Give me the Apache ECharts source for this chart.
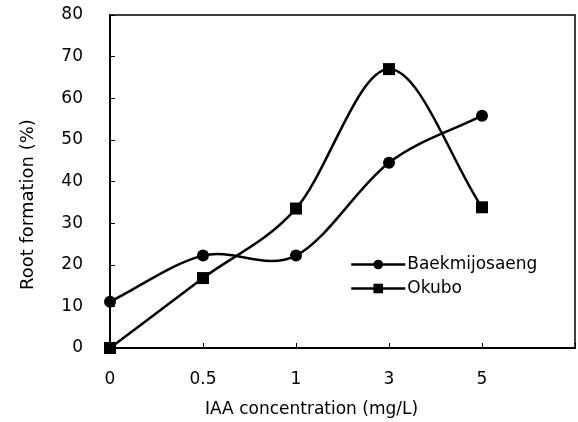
<!DOCTYPE html>
<html>
<head>
<meta charset="utf-8">
<script src="https://cdn.jsdelivr.net/npm/echarts@6/dist/echarts.min.js"></script>
<style>
  html, body { margin: 0; padding: 0; background: #fff; }
  #chart { width: 578px; height: 422px; }
</style>
</head>
<body>
<div id="chart"></div>
<script>
// IAA concentration (mg/L); last slot is empty space on the right
var concentrations = ['0', '0.5', '1', '3', '5', '']
var baekmijosaeng = [11.1, 22.2, 22.2, 44.5, 55.8]
var okubo = [0, 16.8, 33.5, 67.0, 33.8]
var yTicks = { min: 0, max: 80, step: 10 }

var font = 'DejaVu Sans'

// spreadsheet-style smoothed curve (catmull-rom), points mapped by the axes
function smoothCurve (values) {
  return function (params, api) {
    var pts = values.map(function (v, i) { return api.coord([i, v]) })
    var n = pts.length
    var children = []
    for (var i = 0; i < n - 1; i++) {
      var p1 = pts[i]
      var p2 = pts[i + 1]
      // reflect neighbours at the ends so end segments stay fairly straight
      var p0 = i > 0 ? pts[i - 1] : [2 * p1[0] - p2[0], 2 * p1[1] - p2[1]]
      var p3 = i + 2 < n ? pts[i + 2] : [2 * p2[0] - p1[0], 2 * p2[1] - p1[1]]
      children.push({
        type: 'bezierCurve',
        shape: {
          x1: p1[0], y1: p1[1],
          x2: p2[0], y2: p2[1],
          cpx1: p1[0] + (p2[0] - p0[0]) / 6,
          cpy1: p1[1] + (p2[1] - p0[1]) / 6,
          cpx2: p2[0] - (p3[0] - p1[0]) / 6,
          cpy2: p2[1] - (p3[1] - p1[1]) / 6
        },
        style: { stroke: '#000', lineWidth: 2.5, fill: null }
      })
    }
    return { type: 'group', children: children }
  }
}

var myChart = echarts.init(document.getElementById('chart'))
var option = {
  animation: false,
  backgroundColor: '#fff',
  grid: {
    left: 110,
    right: 1,
    top: 15,
    bottom: 74,
    show: true,
    borderColor: '#000',
    borderWidth: 1.5
  },
  legend: {
    orient: 'vertical',
    left: 345,
    top: 251,
    itemWidth: 54,
    itemHeight: 12,
    itemGap: 7,
    lineStyle: { color: '#000', width: 2.5, opacity: 1 },
    textStyle: { color: '#000', fontSize: 17, fontFamily: font, padding: [0, 0, 0, -3] },
    data: ['Baekmijosaeng', 'Okubo']
  },
  xAxis: {
    type: 'category',
    data: concentrations,
    boundaryGap: false,
    axisLine: { lineStyle: { color: '#000', width: 2 } },
    axisTick: { inside: true, length: 5, lineStyle: { color: '#000' } },
    axisLabel: { color: '#000', fontSize: 17, fontFamily: font, margin: 23 },
    splitLine: { show: false }
  },
  yAxis: {
    type: 'value',
    min: yTicks.min,
    max: yTicks.max,
    interval: yTicks.step,
    axisLine: { show: true, lineStyle: { color: '#000', width: 2 } },
    axisTick: { show: true, inside: true, length: 5, lineStyle: { color: '#000' } },
    axisLabel: { color: '#000', fontSize: 17, fontFamily: font, margin: 27 },
    splitLine: { show: false }
  },
  graphic: [
    {
      type: 'text',
      left: 205,
      top: 401,
      style: { text: 'IAA concentration (mg/L)', fill: '#000', fontSize: 17, fontFamily: font }
    },
    {
      type: 'text',
      x: 19,
      y: 290,
      rotation: Math.PI / 2,
      style: { text: 'Root formation (%)', fill: '#000', fontSize: 18, fontFamily: font, verticalAlign: 'top' }
    }
  ],
  series: [
    {
      type: 'custom',
      renderItem: smoothCurve(baekmijosaeng),
      data: [0],
      z: 1,
      silent: true
    },
    {
      type: 'custom',
      renderItem: smoothCurve(okubo),
      data: [0],
      z: 1,
      silent: true
    },
    {
      name: 'Baekmijosaeng',
      type: 'line',
      data: baekmijosaeng,
      symbol: 'circle',
      symbolSize: 12,
      z: 3,
      itemStyle: { color: '#000' },
      lineStyle: { color: '#000', width: 2.5, opacity: 0 }
    },
    {
      name: 'Okubo',
      type: 'line',
      data: okubo,
      symbol: 'rect',
      symbolSize: 12,
      z: 3,
      itemStyle: { color: '#000' },
      lineStyle: { color: '#000', width: 2.5, opacity: 0 }
    }
  ]
}
myChart.setOption(option)
</script>
</body>
</html>
